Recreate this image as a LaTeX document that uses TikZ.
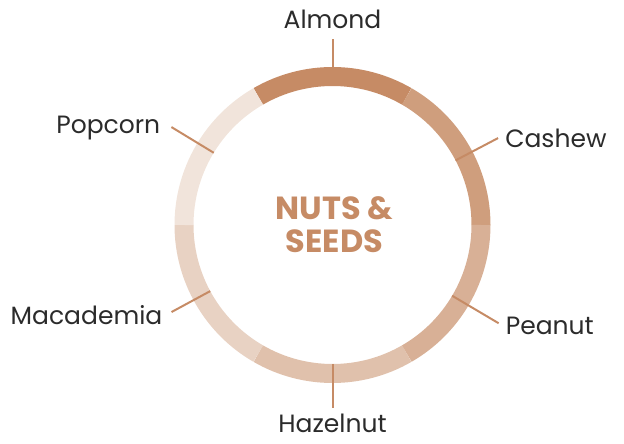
\documentclass[tikz,border=0pt]{standalone}
\usepackage{fontspec}
\setmainfont{Poppins}
\usetikzlibrary{positioning}

\definecolor{almond}{HTML}{C68B65}
\definecolor{cashew}{HTML}{CF9E7D}
\definecolor{peanut}{HTML}{D8B096}
\definecolor{hazelnut}{HTML}{E0C1AC}
\definecolor{macademia}{HTML}{E8D2C3}
\definecolor{popcorn}{HTML}{F1E4DB}
\definecolor{tickcol}{HTML}{C68B65}
\definecolor{labelgray}{HTML}{2B2B2B}

\tikzset{
  segment/.style={line width=19pt},
  tickline/.style={draw=tickcol, line width=2pt},
  nutlabel/.style={font=\fontsize{25}{28}\selectfont, text=labelgray, inner sep=0pt},
  titletext/.style={font=\fontsize{32}{33}\selectfont\bfseries, text=almond, align=center},
}

\begin{document}
\begin{tikzpicture}[x=1pt,y=1pt]
  \useasboundingbox (0,0) rectangle (624,444);
  \coordinate (c) at (332.5,219);

  % ring, one arc per segment
  \foreach \start/\col in {60/almond,0/cashew,-60/peanut,-120/hazelnut,180/macademia,120/popcorn}
    \draw[segment, draw=\col] (c) ++(\start:148.5) arc[start angle=\start, delta angle=60, radius=148.5];

  % tick marks from the inner edge outwards
  \foreach \ang/\len/\name in {90/186/almond,27.7/187/cashew,-30.6/193/peanut,-90/183/hazelnut,208.4/183/macademia,148.7/188.5/popcorn}
  {
    \coordinate (\name-in) at ([shift={(\ang:139)}]c);
    \coordinate (\name-out) at ([shift={(\ang:\len)}]c);
    \draw[tickline] (\name-in) -- (\name-out);
  }

  % labels
  \node[nutlabel, anchor=base] (lab-almond) at ([yshift=10pt]almond-out) {Almond};
  \node[nutlabel, right=7pt of cashew-out] (lab-cashew) {Cashew};
  \node[nutlabel, anchor=west] (lab-peanut) at ([xshift=7pt,yshift=-3pt]peanut-out) {Peanut};
  \node[nutlabel, anchor=base] (lab-hazelnut) at ([yshift=-25pt]hazelnut-out) {Hazelnut};
  \node[nutlabel, anchor=east] (lab-macademia) at ([xshift=-9pt,yshift=-3pt]macademia-out) {Macademia};
  \node[nutlabel, anchor=base east] (lab-popcorn) at ([xshift=-11pt,yshift=-6pt]popcorn-out) {Popcorn};

  % title in the middle
  \node[titletext] (title) at ([xshift=2pt,yshift=0pt]c) {NUTS \&\\SEEDS};
\end{tikzpicture}
\end{document}
